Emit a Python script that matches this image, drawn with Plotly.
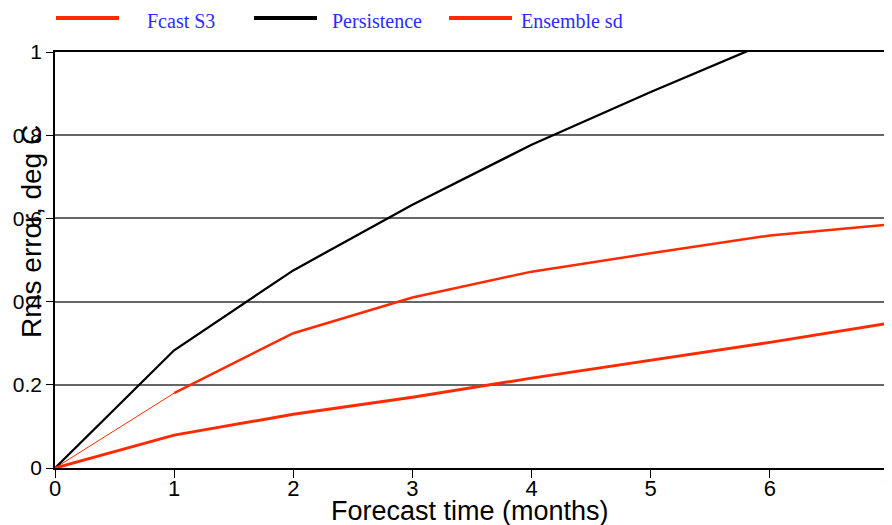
import plotly.graph_objects as go

months = [0, 1, 2, 3, 4, 5, 6, 7]
persistence_months = [0, 1, 2, 3, 4, 5, 6]
persistence = [0.0, 0.283, 0.475, 0.633, 0.777, 0.904, 1.025]
fcast_s3 = [0.0, 0.180, 0.324, 0.410, 0.472, 0.516, 0.559, 0.585]
ensemble_sd = [0.0, 0.079, 0.129, 0.170, 0.216, 0.259, 0.302, 0.348]
x_ticks = [0, 1, 2, 3, 4, 5, 6, 7]
y_ticks = [0, 0.2, 0.4, 0.6, 0.8, 1]
y_tick_text = ["0", "0.2", "0.4", "0.6", "0.8", "1"]
legend_names = ["Fcast S3", "Persistence", "Ensemble sd"]

RED = "#ff2a00"
OFF = 8  # page body margin
W, H = 892 - OFF, 525 - OFF
# plot area in screen pixels: left 55, right 889, top 52, bottom 468
L = 55 - OFF
T = 52 - OFF
R = W - (889 - OFF)
B = H - (468 - OFF)
PW, PH = W - L - R, H - T - B


def px_x(p):  # screen px -> paper
    return (p - OFF - L) / PW


def px_y(p):
    return (H - B - (p - OFF)) / PH


fig = go.Figure()
# thin first segment of Fcast S3
fig.add_trace(go.Scatter(x=months[:2], y=fcast_s3[:2], mode="lines",
                         line=dict(color=RED, width=1), showlegend=False, hoverinfo="skip"))
fig.add_trace(go.Scatter(x=months[1:], y=fcast_s3[1:], mode="lines", name=legend_names[0],
                         line=dict(color=RED, width=2.5), showlegend=False))
fig.add_trace(go.Scatter(x=persistence_months, y=persistence, mode="lines", name=legend_names[1],
                         line=dict(color="black", width=2.3), showlegend=False))
fig.add_trace(go.Scatter(x=months, y=ensemble_sd, mode="lines", name=legend_names[2],
                         line=dict(color=RED, width=3), showlegend=False))

# manual legend
leg_colors = [RED, "black", RED]
leg_line_x = [(56, 119), (254, 317), (449, 512)]
leg_text_x = [145, 330, 519]
shapes = []
annotations = []
for name, col, (x0, x1), tx in zip(legend_names, leg_colors, leg_line_x, leg_text_x):
    shapes.append(dict(type="line", xref="paper", yref="paper",
                       x0=px_x(x0), x1=px_x(x1), y0=px_y(18), y1=px_y(18),
                       line=dict(color=col, width=4)))
    annotations.append(dict(text=name, xref="paper", yref="paper", x=px_x(tx), y=px_y(21),
                            xanchor="left", yanchor="middle", showarrow=False,
                            font=dict(family="Liberation Serif, Times New Roman", size=20,
                                      color="#2b2bff")))

annotations.append(dict(text="Rms error, deg C", xref="paper", yref="paper",
                        x=px_x(31), y=px_y(232), xanchor="center", yanchor="middle",
                        textangle=-90, showarrow=False,
                        font=dict(family="Liberation Sans, Arial", size=28)))
annotations.append(dict(text="Forecast time (months)", xref="paper", yref="paper",
                        x=px_x(470), y=px_y(511), xanchor="center", yanchor="middle",
                        showarrow=False,
                        font=dict(family="Liberation Sans, Arial", size=27)))

fig.update_layout(
    width=W, height=H,
    margin=dict(l=L, r=R, t=T, b=B, autoexpand=False),
    plot_bgcolor="white", paper_bgcolor="white",
    font=dict(family="Liberation Sans, Arial", size=20, color="black"),
    showlegend=False,
    xaxis=dict(range=[0, 7], tickvals=x_ticks, ticks="outside", ticklen=8, tickcolor="black",
               showline=True, linecolor="black", linewidth=1.5, mirror=True,
               showgrid=False, zeroline=False, ticklabeloverflow="allow",
               ticklabelstandoff=-8,
               tickfont=dict(size=22)),
    yaxis=dict(range=[0, 1], tickvals=y_ticks, ticktext=y_tick_text, ticks="outside", ticklen=7,
               tickcolor="black", showline=True, linecolor="black", linewidth=1.5, mirror=True,
               showgrid=True, gridcolor="#666666", gridwidth=1.5, zeroline=False,
               tickfont=dict(size=21)),
    shapes=shapes,
    annotations=annotations,
)
fig.write_html("out.html")
